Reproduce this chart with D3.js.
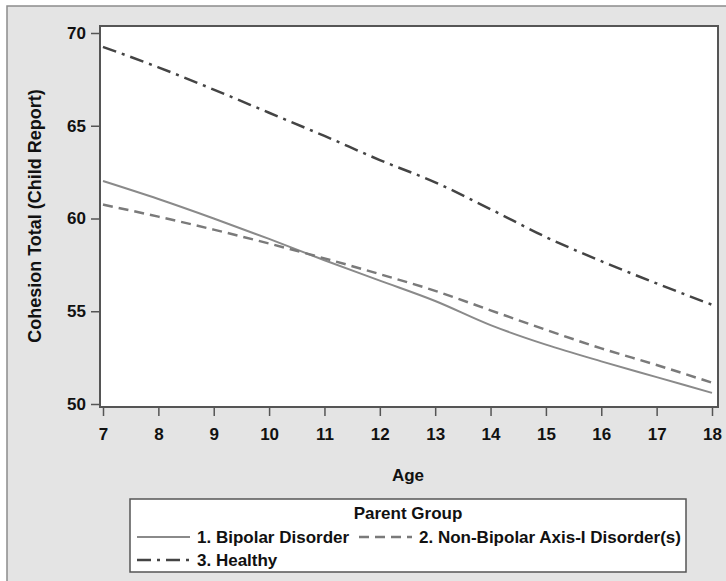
<!DOCTYPE html>
<html>
<head>
<meta charset="utf-8">
<script src="https://cdn.jsdelivr.net/npm/d3@7"></script>
<style>
  body { margin: 0; background: #fff; }
  svg text { font-family: "Liberation Sans", Arial, sans-serif; font-weight: bold; fill: #111; }
</style>
</head>
<body>
<svg id="chart" width="726" height="581"></svg>
<script>
var ages = [7, 8, 9, 10, 11, 12, 13, 14, 15, 16, 17, 18]
var bipolar    = [62.02, 61.05, 60.00, 58.90, 57.75, 56.65, 55.55, 54.25, 53.20, 52.30, 51.45, 50.60]
var nonBipolar = [60.75, 60.10, 59.40, 58.65, 57.85, 57.00, 56.10, 55.05, 54.00, 53.00, 52.10, 51.15]
var healthy    = [69.25, 68.15, 66.95, 65.70, 64.45, 63.15, 61.95, 60.50, 59.00, 57.70, 56.50, 55.35]
var yTicks = [50, 55, 60, 65, 70]
var seriesNames = ['1. Bipolar Disorder', '2. Non-Bipolar Axis-I Disorder(s)', '3. Healthy']

var series = [
  {name: seriesNames[0], values: bipolar, color: '#8a8a8a', width: 2, dash: null},
  {name: seriesNames[1], values: nonBipolar, color: '#7a7a7a', width: 2.5, dash: '10,6'},
  {name: seriesNames[2], values: healthy, color: '#444', width: 2.5, dash: '14,6,3,6'}
]

var svg = d3.select('#chart')

// outer gray panel
svg.append('rect')
  .attr('x', 7).attr('y', 6).attr('width', 740).attr('height', 600)
  .attr('fill', '#e4e4e4').attr('stroke', '#8c8c8c').attr('stroke-width', 1.5)

var pL = 100, pT = 26, pR = 718, pB = 407

var x = d3.scaleLinear().domain([7, 18]).range([103, 712])
var y = d3.scaleLinear().domain([50, 70]).range([404, 33])

svg.append('rect')
  .attr('x', pL).attr('y', pT).attr('width', pR - pL).attr('height', pB - pT)
  .attr('fill', '#fff')

var line = d3.line()
  .x(function(d, i){ return x(ages[i]) })
  .y(function(d){ return y(d) })
  .curve(d3.curveMonotoneX)

svg.append('g').selectAll('path')
  .data(series)
  .join('path')
  .attr('d', function(s){ return line(s.values) })
  .attr('fill', 'none')
  .attr('stroke', function(s){ return s.color })
  .attr('stroke-width', function(s){ return s.width })
  .attr('stroke-dasharray', function(s){ return s.dash })

svg.append('rect')
  .attr('x', pL).attr('y', pT).attr('width', pR - pL).attr('height', pB - pT)
  .attr('fill', 'none').attr('stroke', '#555').attr('stroke-width', 2)

// axes
var xAxis = d3.axisBottom(x).tickValues(ages).tickSize(8).tickPadding(12)
var xg = svg.append('g').attr('transform', 'translate(0,' + (pB + 1) + ')').call(xAxis)
xg.select('.domain').remove()
xg.selectAll('line').attr('stroke', '#555').attr('stroke-width', 1.5)
xg.selectAll('text').style('font-size', '17px').attr('fill', '#111')

var yAxis = d3.axisLeft(y).tickValues(yTicks).tickSize(8).tickPadding(5)
var yg = svg.append('g').attr('transform', 'translate(' + (pL - 1) + ',0)').call(yAxis)
yg.select('.domain').remove()
yg.selectAll('line').attr('stroke', '#555').attr('stroke-width', 1.5)
yg.selectAll('text').style('font-size', '17px').attr('fill', '#111')

svg.append('text')
  .attr('x', 408).attr('y', 481)
  .attr('text-anchor', 'middle')
  .style('font-size', '17px')
  .text('Age')

svg.append('text')
  .attr('transform', 'translate(41,216) rotate(-90)')
  .attr('text-anchor', 'middle')
  .style('font-size', '18px')
  .text('Cohesion Total (Child Report)')

// legend
var lg = svg.append('g')
lg.append('rect')
  .attr('x', 130).attr('y', 499).attr('width', 556).attr('height', 73)
  .attr('fill', '#fff').attr('stroke', '#555').attr('stroke-width', 1.5)

lg.append('text')
  .attr('x', 408).attr('y', 519)
  .attr('text-anchor', 'middle')
  .style('font-size', '17px')
  .text('Parent Group')

var legendPos = [
  {x: 137, y: 537},
  {x: 359, y: 537},
  {x: 137, y: 560}
]

var items = lg.selectAll('g.item')
  .data(series)
  .join('g')
  .attr('class', 'item')
  .attr('transform', function(d, i){ return 'translate(' + legendPos[i].x + ',' + legendPos[i].y + ')' })

items.append('line')
  .attr('x1', 0).attr('x2', 53).attr('y1', 0).attr('y2', 0)
  .attr('stroke', function(s){ return s.color })
  .attr('stroke-width', function(s){ return s.width })
  .attr('stroke-dasharray', function(s){ return s.dash })

items.append('text')
  .attr('x', 60).attr('y', 6)
  .style('font-size', '17px')
  .text(function(s){ return s.name })
</script>
</body>
</html>
